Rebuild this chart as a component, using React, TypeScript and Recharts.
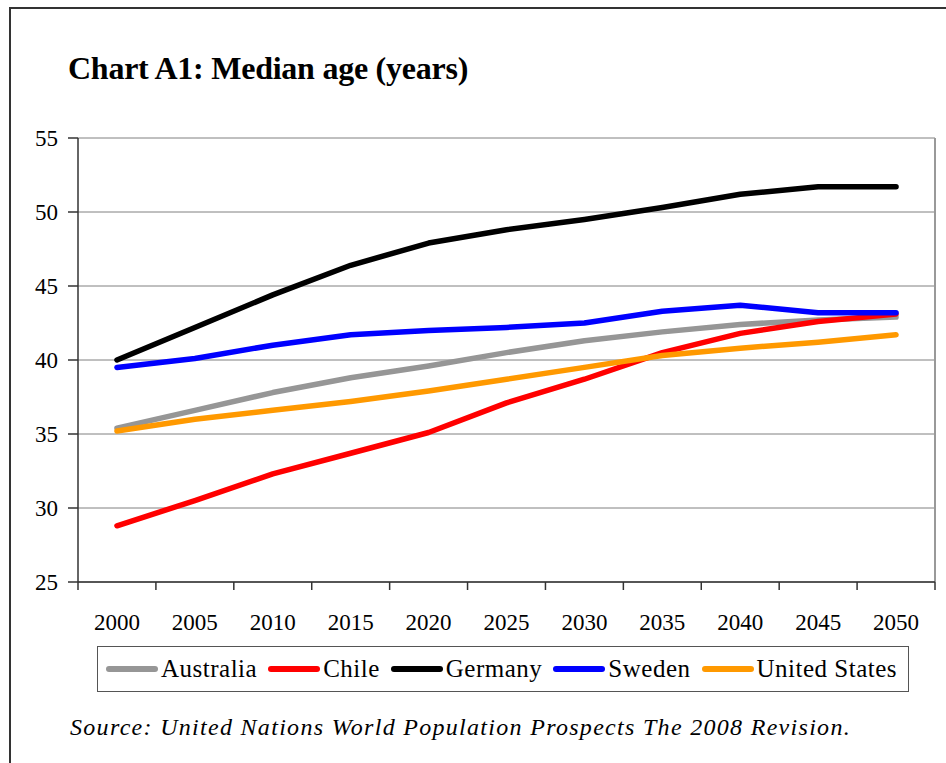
import React from 'react';
import { LineChart, Line, XAxis, YAxis, CartesianGrid, ReferenceLine } from 'recharts';

const years = [2000, 2005, 2010, 2015, 2020, 2025, 2030, 2035, 2040, 2045, 2050];
const australia = [35.4, 36.6, 37.8, 38.8, 39.6, 40.5, 41.3, 41.9, 42.4, 42.7, 42.9];
const chile = [28.8, 30.5, 32.3, 33.7, 35.1, 37.1, 38.7, 40.5, 41.8, 42.6, 43.1];
const germany = [40.0, 42.2, 44.4, 46.4, 47.9, 48.8, 49.5, 50.3, 51.2, 51.7, 51.7];
const sweden = [39.5, 40.1, 41.0, 41.7, 42.0, 42.2, 42.5, 43.3, 43.7, 43.2, 43.2];
const unitedStates = [35.2, 36.0, 36.6, 37.2, 37.9, 38.7, 39.5, 40.3, 40.8, 41.2, 41.7];
const yTicks = [25, 30, 35, 40, 45, 50, 55];

const series = [
  { key: 'Australia', values: australia, color: '#969696' },
  { key: 'Chile', values: chile, color: '#ff0000' },
  { key: 'Germany', values: germany, color: '#000000' },
  { key: 'Sweden', values: sweden, color: '#0000ff' },
  { key: 'United States', values: unitedStates, color: '#ff9900' },
];

const data = years.map((year, i) => {
  const row: Record<string, number> = { year };
  series.forEach((s) => {
    row[s.key] = s.values[i];
  });
  return row;
});

// category boundaries, for the tick marks between the years
const step = years[1] - years[0];
const bounds = [...years.map((y) => y - step / 2), years[years.length - 1] + step / 2];
const domain: [number, number] = [bounds[0], bounds[bounds.length - 1]];

const font = '"Liberation Serif", "Times New Roman", serif';

const XTick = (props: any) => {
  const { x, y, payload } = props;
  return (
    <text x={x} y={y} dy="0.71em" textAnchor="middle" fill="#000" style={{ fontFamily: font, fontSize: 23 }}>
      {payload.value}
    </text>
  );
};

const YTick = (props: any) => {
  const { x, y, payload } = props;
  return (
    <text x={x} y={y} dy="0.35em" textAnchor="end" fill="#000" style={{ fontFamily: font, fontSize: 23 }}>
      {payload.value}
    </text>
  );
};

const NoTick = () => <g />;

const App: React.FC = () => {
  return (
    <div
      style={{
        position: 'absolute',
        left: 0,
        top: 0,
        width: 946,
        height: 763,
        background: '#fff',
        fontFamily: font,
        color: '#000',
      }}
    >
      <div style={{ position: 'absolute', left: 9, top: 7, width: 937, height: 2, background: '#333' }} />
      <div style={{ position: 'absolute', left: 9, top: 7, width: 2, height: 756, background: '#333' }} />
      <div
        style={{
          position: 'absolute',
          left: 68,
          top: 48,
          fontSize: 32,
          fontWeight: 'bold',
          whiteSpace: 'nowrap',
          lineHeight: '40px',
          letterSpacing: -0.25,
        }}
      >
        Chart A1: Median age (years)
      </div>
      <LineChart
        width={946}
        height={763}
        data={data}
        margin={{ top: 138, right: 11, bottom: 140, left: 18 }}
        style={{ position: 'absolute', left: 0, top: 0 }}
      >
        <CartesianGrid vertical={false} stroke="#808080" strokeWidth={1} />
        <ReferenceLine x={domain[1]} stroke="#999" strokeWidth={2} />
        <XAxis
          dataKey="year"
          type="number"
          domain={domain}
          ticks={bounds}
          interval={0}
          tick={<NoTick />}
          tickSize={8}
          tickLine={{ stroke: '#333', strokeWidth: 1.5 }}
          height={1}
          stroke="#333"
          strokeWidth={1.5}
        />
        <XAxis
          xAxisId="labels"
          dataKey="year"
          type="number"
          domain={domain}
          ticks={years}
          interval={0}
          axisLine={false}
          tickLine={false}
          tickSize={0}
          tickMargin={31}
          height={40}
          tick={<XTick />}
        />
        <YAxis
          domain={[25, 55]}
          ticks={yTicks}
          width={60}
          tickSize={10}
          tickMargin={10}
          stroke="#333"
          strokeWidth={1.5}
          tick={<YTick />}
        />
        {series.map((s) => (
          <Line
            key={s.key}
            dataKey={s.key}
            stroke={s.color}
            strokeWidth={5.5}
            strokeLinecap="round"
            strokeLinejoin="round"
            dot={false}
            activeDot={false}
            isAnimationActive={false}
          />
        ))}
      </LineChart>
      <div
        style={{
          position: 'absolute',
          left: 97,
          top: 646,
          width: 802,
          height: 44,
          border: '1px solid #555',
          display: 'flex',
          alignItems: 'center',
          paddingLeft: 8,
          boxSizing: 'content-box',
          whiteSpace: 'nowrap',
        }}
      >
        {series.map((s) => (
          <div key={s.key} style={{ display: 'flex', alignItems: 'center', marginRight: 11, flexShrink: 0 }}>
            <span
              style={{ display: 'inline-block', width: 52, height: 6, borderRadius: 3, background: s.color, marginRight: 3 }}
            />
            <span style={{ fontSize: 25, letterSpacing: 0.5 }}>{s.key}</span>
          </div>
        ))}
      </div>
      <div
        style={{
          position: 'absolute',
          left: 70,
          top: 714,
          fontSize: 24,
          fontStyle: 'italic',
          whiteSpace: 'nowrap',
          letterSpacing: 1.3,
        }}
      >
        Source: United Nations World Population Prospects The 2008 Revision.
      </div>
    </div>
  );
};

export default App;
